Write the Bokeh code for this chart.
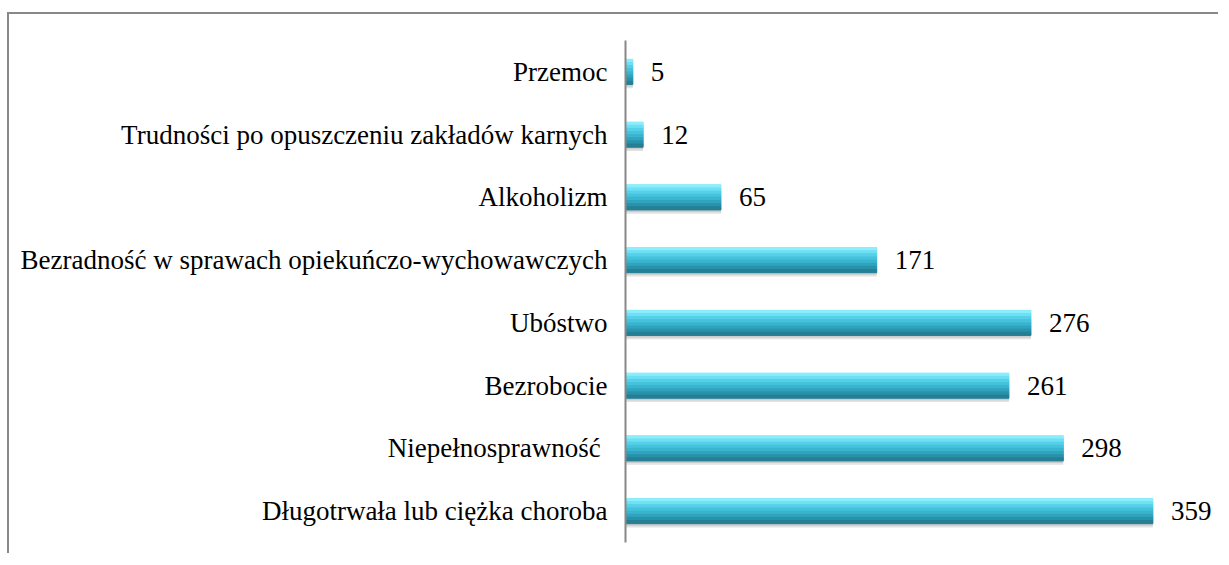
from bokeh.plotting import figure
from bokeh.models import ColumnDataSource, Range1d, FactorRange
from bokeh.transform import dodge
from bokeh.core.properties import value
from bokeh.embed import file_html
from bokeh.resources import INLINE

categories = [
    "Długotrwała lub ciężka choroba",
    "Niepełnosprawność ",
    "Bezrobocie",
    "Ubóstwo",
    "Bezradność w sprawach opiekuńczo-wychowawczych",
    "Alkoholizm",
    "Trudności po opuszczeniu zakładów karnych",
    "Przemoc",
]
counts = [359, 298, 261, 276, 171, 65, 12, 5]
count_labels = [str(c) for c in counts]

src = ColumnDataSource(dict(cat=categories, val=counts, lab=count_labels))

FONT = "Liberation Serif"

p = figure(
    width=1211, height=541,
    y_range=FactorRange(*categories, range_padding=0),
    x_range=Range1d(0, 405),
    output_backend="svg", toolbar_location=None,
    min_border_left=616, min_border_right=0,
    min_border_top=26, min_border_bottom=13,
)
p.margin = (12, 0, 0, 7)
p.styles = {"border-top": "2px solid #888888", "border-left": "2px solid #888888"}

p.outline_line_color = None
p.xgrid.visible = False
p.ygrid.visible = False
p.xaxis.visible = False

# soft shadow under each bar
p.hbar(y=dodge("cat", -0.05, range=p.y_range), right="val", left=0, height=0.42,
       source=src, fill_color="#8c8c8c", fill_alpha=0.25, line_color=None)
p.hbar(y=dodge("cat", -0.03, range=p.y_range), right="val", left=0, height=0.41,
       source=src, fill_color="#8c8c8c", fill_alpha=0.25, line_color=None)

# bar body: full-height base, then gradient strips (top light -> bottom dark)
p.hbar(y="cat", right="val", left=0, height=0.4, source=src,
       fill_color="#3ab4cf", line_color=None)
strip_colors = ["#8beefc", "#6fe0f3", "#55d0e8", "#45c2dc", "#3ab4cf", "#30a4bf", "#2992ab", "#267f95"]
n = len(strip_colors)
h = 0.4 / n
for i, col in enumerate(strip_colors):
    off = 0.2 - h * (i + 0.5)
    p.hbar(y=dodge("cat", off, range=p.y_range), right="val", left=0, height=h,
           source=src, fill_color=col, line_color=col, line_width=1)

p.text(x="val", y="cat", text="lab", source=src, x_offset=18,
       text_baseline="middle", text_align="left",
       text_font=value(FONT), text_font_size="27px", text_color="#000000")

ax = p.yaxis[0]
ax.axis_line_color = "#888888"
ax.axis_line_width = 2
ax.major_tick_line_color = None
ax.minor_tick_line_color = None
ax.major_label_standoff = 12
ax.major_label_text_font = FONT
ax.major_label_text_font_size = "27px"
ax.major_label_text_color = "#000000"

open("out.html", "w").write(file_html(p, INLINE))
